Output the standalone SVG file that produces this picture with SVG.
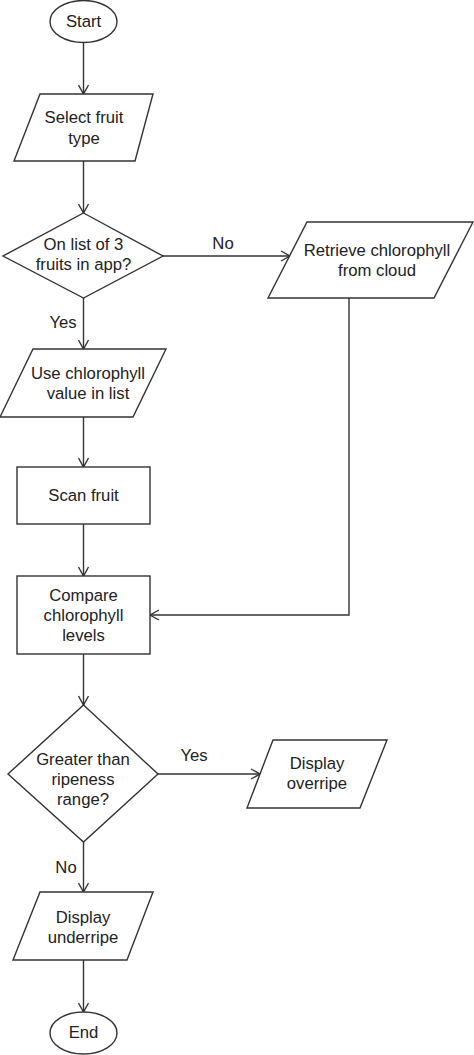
<svg xmlns="http://www.w3.org/2000/svg" width="474" height="1055" viewBox="0 0 474 1055">
<defs>
<style>
.s{fill:#fff;stroke:#333;stroke-width:1.4}
.c{fill:none;stroke:#333;stroke-width:1.4}
text{font-family:"Liberation Sans",Arial,sans-serif;font-size:16.7px;fill:#222;text-anchor:middle}
</style>
<marker id="a" markerWidth="12" markerHeight="12" refX="10" refY="6" orient="auto" markerUnits="userSpaceOnUse">
<path d="M1,1 L10,6 L1,11" fill="none" stroke="#333" stroke-width="1.4"/>
</marker>
</defs>
<rect width="474" height="1055" fill="#fff"/>
<g id="connectors">
<line class="c" x1="83.5" y1="43" x2="83.5" y2="94" marker-end="url(#a)"/>
<line class="c" x1="83.5" y1="161" x2="83.5" y2="213" marker-end="url(#a)"/>
<line class="c" x1="163" y1="256" x2="290" y2="256" marker-end="url(#a)"/>
<line class="c" x1="83.5" y1="298" x2="83.5" y2="349" marker-end="url(#a)"/>
<polyline class="c" points="349,298 349,615 150,615" marker-end="url(#a)"/>
<line class="c" x1="83.5" y1="417" x2="83.5" y2="467" marker-end="url(#a)"/>
<line class="c" x1="83.5" y1="524" x2="83.5" y2="576" marker-end="url(#a)"/>
<line class="c" x1="83.5" y1="654" x2="83.5" y2="705" marker-end="url(#a)"/>
<line class="c" x1="158" y1="774" x2="260" y2="774" marker-end="url(#a)"/>
<line class="c" x1="83.5" y1="842" x2="83.5" y2="892" marker-end="url(#a)"/>
<line class="c" x1="83.5" y1="960" x2="83.5" y2="1012" marker-end="url(#a)"/>
<text x="223" y="249">No</text>
<text x="63" y="328">Yes</text>
<text x="194" y="761">Yes</text>
<text x="66" y="873">No</text>
</g>
<g id="start">
<ellipse class="s" cx="83.5" cy="21.5" rx="33.5" ry="21"/>
<text x="83.5" y="27">Start</text>
</g>
<g id="select">
<polygon class="s" points="40,94 153,94 135,161 14,161"/>
<text x="84" y="122.5">Select fruit</text>
<text x="84" y="143.5">type</text>
</g>
<g id="onlist">
<polygon class="s" points="83.5,213 163,256 83.5,298 3,256"/>
<text x="83.5" y="250">On list of 3</text>
<text x="83.5" y="270">fruits in app?</text>
</g>
<g id="retrieve">
<polygon class="s" points="307,222 473,222 434,298 268,298"/>
<text x="377" y="256">Retrieve chlorophyll</text>
<text x="377" y="276">from cloud</text>
</g>
<g id="usevalue">
<polygon class="s" points="33,349 166,349 133,417 0,417"/>
<text x="88" y="379">Use chlorophyll</text>
<text x="88" y="399">value in list</text>
</g>
<g id="scan">
<rect class="s" x="17" y="467" width="133" height="57"/>
<text x="83.5" y="501">Scan fruit</text>
</g>
<g id="compare">
<rect class="s" x="17" y="576" width="133" height="78"/>
<text x="83.5" y="601">Compare</text>
<text x="83.5" y="621">chlorophyll</text>
<text x="83.5" y="641">levels</text>
</g>
<g id="greater">
<polygon class="s" points="83.5,705 158,774 83.5,842 8,774"/>
<text x="83" y="765">Greater than</text>
<text x="83" y="785">ripeness</text>
<text x="83" y="805">range?</text>
</g>
<g id="overripe">
<polygon class="s" points="273,740 387,740 360,808 247,808"/>
<text x="317" y="769">Display</text>
<text x="317" y="789">overripe</text>
</g>
<g id="underripe">
<polygon class="s" points="40,892 153,892 127,960 13,960"/>
<text x="83" y="923">Display</text>
<text x="83" y="943">underripe</text>
</g>
<g id="end">
<ellipse class="s" cx="83.5" cy="1033" rx="33.5" ry="21"/>
<text x="83.5" y="1038">End</text>
</g>
</svg>
